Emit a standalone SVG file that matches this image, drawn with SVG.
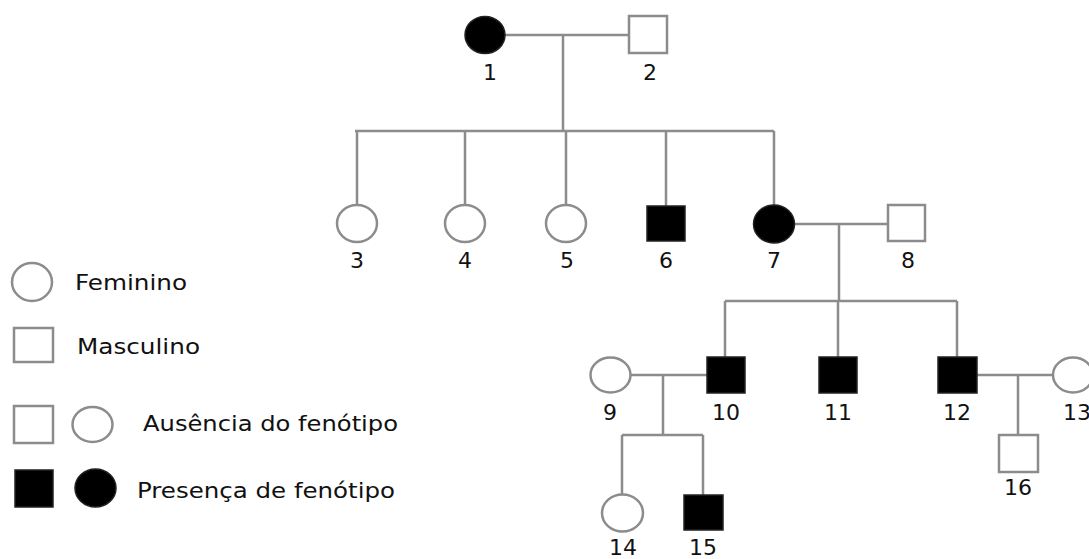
<svg xmlns="http://www.w3.org/2000/svg" width="1089" height="559" viewBox="0 0 1089 559">
<style>
.o{fill:#fff;stroke:#8c8c8c;stroke-width:2.5}
.f{fill:#000;stroke:#222;stroke-width:1.5}
.c{fill:none;stroke:#8c8c8c;stroke-width:2.5}
.t{font-family:"DejaVu Sans",Verdana,sans-serif;font-size:22px;fill:#111;text-anchor:middle}
.l{font-family:"DejaVu Sans",Verdana,sans-serif;font-size:21px;fill:#111}
</style>
<rect width="1089" height="559" fill="#fff"/>
<g id="connectors">
<path class="c" d="M505 35H629M563 35V131M355 131H774M357 131V205M465 131V205M566 131V205M666 131V206M774 131V205"/>
<path class="c" d="M795 224H888M839 224V301M725 301H957M725 301V357M838 301V357M957 301V357"/>
<path class="c" d="M631 375H707M663 375V435M622 435H703M622 435V495M703 435V495"/>
<path class="c" d="M977 375H1053M1018 375V435"/>
</g>
<g id="n1"><ellipse class="f" cx="485" cy="35" rx="20" ry="18.5"/><text class="t" x="490" y="80">1</text></g>
<g id="n2"><rect class="o" x="629" y="16" width="38" height="37"/><text class="t" x="650" y="80">2</text></g>
<g id="n3"><ellipse class="o" cx="357" cy="223.5" rx="20" ry="18.5"/><text class="t" x="357" y="268">3</text></g>
<g id="n4"><ellipse class="o" cx="465" cy="223.5" rx="20" ry="18.5"/><text class="t" x="465" y="268">4</text></g>
<g id="n5"><ellipse class="o" cx="566" cy="223.5" rx="20" ry="18.5"/><text class="t" x="567" y="268">5</text></g>
<g id="n6"><rect class="f" x="647" y="206" width="38" height="35"/><text class="t" x="666" y="268">6</text></g>
<g id="n7"><ellipse class="f" cx="774" cy="224" rx="20.5" ry="19"/><text class="t" x="774" y="268">7</text></g>
<g id="n8"><rect class="o" x="888" y="205" width="37" height="36"/><text class="t" x="908" y="268">8</text></g>
<g id="n9"><ellipse class="o" cx="610.5" cy="375" rx="20" ry="17.5"/><text class="t" x="610" y="420">9</text></g>
<g id="n10"><rect class="f" x="707" y="357" width="38" height="36"/><text class="t" x="726" y="420">10</text></g>
<g id="n11"><rect class="f" x="819" y="357" width="38" height="36"/><text class="t" x="838" y="420">11</text></g>
<g id="n12"><rect class="f" x="938" y="357" width="39" height="36"/><text class="t" x="957" y="420">12</text></g>
<g id="n13"><ellipse class="o" cx="1073" cy="375" rx="20" ry="17.5"/><text class="t" x="1077" y="420">13</text></g>
<g id="n14"><ellipse class="o" cx="622.5" cy="513" rx="20.5" ry="18.5"/><text class="t" x="623" y="555">14</text></g>
<g id="n15"><rect class="f" x="684" y="495" width="39" height="35"/><text class="t" x="703" y="555">15</text></g>
<g id="n16"><rect class="o" x="999" y="435" width="39" height="37"/><text class="t" x="1018" y="495">16</text></g>
<g id="legend">
<ellipse class="o" cx="32" cy="282" rx="20" ry="19"/>
<text class="l" x="75" y="290" textLength="112" lengthAdjust="spacingAndGlyphs">Feminino</text>
<rect class="o" x="14" y="328" width="39" height="34"/>
<text class="l" x="77" y="354" textLength="123" lengthAdjust="spacingAndGlyphs">Masculino</text>
<rect class="o" x="14" y="406" width="39" height="37"/>
<ellipse class="o" cx="92.5" cy="424.5" rx="20" ry="17.5"/>
<text class="l" x="143" y="431" textLength="255" lengthAdjust="spacingAndGlyphs">Ausência do fenótipo</text>
<rect class="f" x="15" y="470" width="38" height="37"/>
<ellipse class="f" cx="95.5" cy="488" rx="20.5" ry="19"/>
<text class="l" x="137" y="498" textLength="258" lengthAdjust="spacingAndGlyphs">Presença de fenótipo</text>
</g>
</svg>
